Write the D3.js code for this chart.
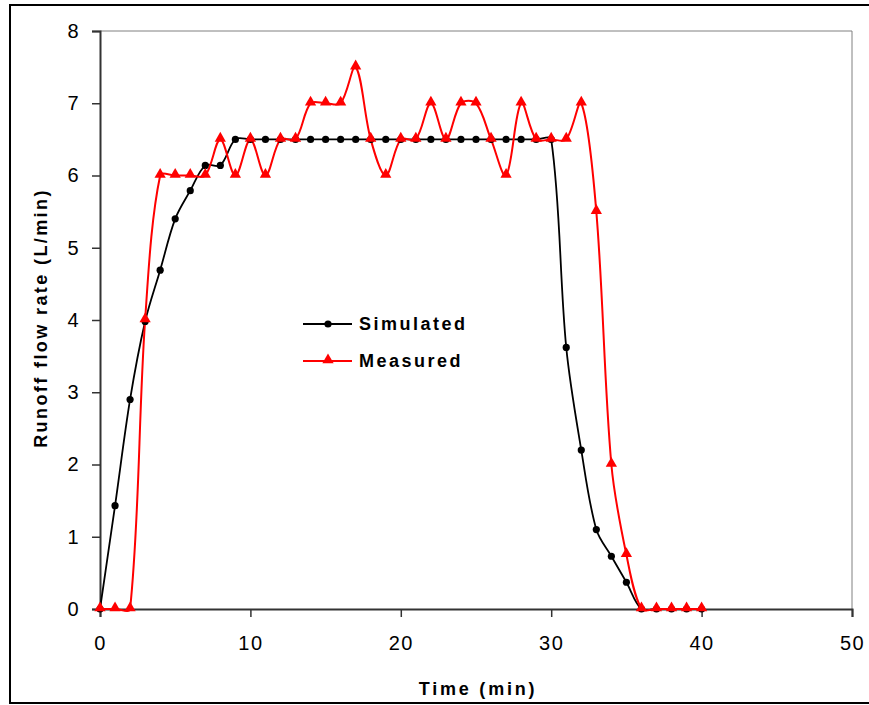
<!DOCTYPE html>
<html><head><meta charset="utf-8">
<script src="https://cdn.jsdelivr.net/npm/d3@7/dist/d3.min.js"></script>
<style>body{margin:0;background:#fff}svg{display:block}text{font-family:Arial,"Liberation Sans",sans-serif}</style>
</head><body><svg id="c" width="869" height="705"></svg>
<script>
const time = [0,1,2,3,4,5,6,7,8,9,10,11,12,13,14,15,16,17,18,19,20,21,22,23,24,25,26,27,28,29,30,31,32,33,34,35,36,37,38,39,40];
const simulated = [0,1.43,2.9,3.98,4.69,5.4,5.79,6.14,6.14,6.5,6.5,6.5,6.5,6.5,6.5,6.5,6.5,6.5,6.5,6.5,6.5,6.5,6.5,6.5,6.5,6.5,6.5,6.5,6.5,6.5,6.5,3.62,2.2,1.1,0.73,0.37,0,0,0,0,0];
const measured = [0,0,0,4.0,6.0,6.0,6.0,6.0,6.5,6.0,6.5,6.0,6.5,6.5,7.0,7.0,7.0,7.5,6.5,6.0,6.5,6.5,7.0,6.5,7.0,7.0,6.5,6.0,7.0,6.5,6.5,6.5,7.0,5.5,2.0,0.75,0,0,0,0,0];
const xTicks = [0,10,20,30,40,50];
const yTicks = [0,1,2,3,4,5,6,7,8];
const seriesNames = ["Simulated","Measured"];
const xTitle = "Time (min)";
const yTitle = "Runoff flow rate (L/min)";

const svg = d3.select("#c");
svg.append("rect").attr("x",10).attr("y",5).attr("width",870).attr("height",698)
  .attr("fill","#fff").attr("stroke","#000").attr("stroke-width",2);

const L=100,R=852,T=31,B=609;
const x = d3.scaleLinear().domain([0,50]).range([L,R]);
const y = d3.scaleLinear().domain([0,8]).range([B,T]);

svg.append("path").attr("d",`M${L},${T}H${R}V${B}`).attr("fill","none").attr("stroke","#808080").attr("stroke-width",1);

const gx = svg.append("g").attr("transform",`translate(0,${B})`)
  .call(d3.axisBottom(x).tickValues(xTicks).tickSize(8).tickPadding(19).tickFormat(d3.format("d")));
const gy = svg.append("g").attr("transform",`translate(${L},0)`)
  .call(d3.axisLeft(y).tickValues(yTicks).tickSize(8).tickPadding(12).tickFormat(d3.format("d")));
[gx,gy].forEach(g=>{
  g.select(".domain").attr("stroke","#333").attr("stroke-width",2);
  g.selectAll(".tick line").attr("stroke","#333").attr("stroke-width",1.5);
  g.selectAll(".tick text").attr("font-size",20).attr("fill","#000").attr("letter-spacing",1.5)
    .attr("font-family","Arial, 'Liberation Sans', sans-serif");
});

// Excel-like smoothed line: Bezier arms along the Catmull-Rom tangent, scaled by adjacent segment lengths
function smoothPath(vals){
  const p = vals.map((v,i)=>[x(time[i]), y(v)]);
  const n = p.length, path = d3.path();
  const dist = (a,b)=>Math.hypot(b[0]-a[0], b[1]-a[1]);
  const arms = p.map((pt,i)=>{
    if(i===0 || i===n-1) return {f:[0,0], b:[0,0]};
    const t=[p[i+1][0]-p[i-1][0], p[i+1][1]-p[i-1][1]];
    const d1=dist(p[i-1],pt), d2=dist(pt,p[i+1]), s=d1+d2||1;
    return {f:[t[0]*d2/s/3, t[1]*d2/s/3], b:[-t[0]*d1/s/3, -t[1]*d1/s/3]};
  });
  path.moveTo(p[0][0],p[0][1]);
  for(let i=0;i<n-1;i++){
    const a=p[i], c=p[i+1];
    const c1=i===0?[a[0]+(c[0]-a[0])/3, a[1]+(c[1]-a[1])/3]:[a[0]+arms[i].f[0], a[1]+arms[i].f[1]];
    const c2=i+1===n-1?[c[0]-(c[0]-a[0])/3, c[1]-(c[1]-a[1])/3]:[c[0]+arms[i+1].b[0], c[1]+arms[i+1].b[1]];
    path.bezierCurveTo(c1[0],c1[1],c2[0],c2[1],c[0],c[1]);
  }
  return path.toString();
}

svg.append("path").attr("d",smoothPath(simulated)).attr("fill","none").attr("stroke","#000").attr("stroke-width",1.8);
svg.append("path").attr("d",smoothPath(measured)).attr("fill","none").attr("stroke","#ff0000").attr("stroke-width",2);

svg.append("g").selectAll("circle").data(simulated).join("circle")
  .attr("cx",(d,i)=>x(time[i])).attr("cy",d=>y(d)).attr("r",3.6).attr("fill","#000");
const tri = d3.symbol().type(d3.symbolTriangle).size(55);
svg.append("g").selectAll("path").data(measured).join("path")
  .attr("d",tri).attr("transform",(d,i)=>`translate(${x(time[i])},${y(d)-1})`).attr("fill","#ff0000");

const lg = svg.append("g");
const ly = [324,361];
lg.append("line").attr("x1",303).attr("x2",352).attr("y1",ly[0]).attr("y2",ly[0]).attr("stroke","#000").attr("stroke-width",1.8);
lg.append("circle").attr("cx",328).attr("cy",ly[0]).attr("r",3.6).attr("fill","#000");
lg.append("line").attr("x1",303).attr("x2",352).attr("y1",ly[1]).attr("y2",ly[1]).attr("stroke","#ff0000").attr("stroke-width",2);
lg.append("path").attr("d",tri).attr("transform",`translate(328,${ly[1]-1})`).attr("fill","#ff0000");
seriesNames.forEach((n,i)=>{
  lg.append("text").attr("x",359).attr("y",ly[i]).attr("dy","0.35em").attr("font-size",18).attr("font-weight","bold").attr("letter-spacing",2.5).text(n);
});

svg.append("text").attr("x",478).attr("y",689).attr("dy","0.35em").attr("text-anchor","middle").attr("font-size",18).attr("font-weight","bold").attr("letter-spacing",2.8).text(xTitle);
svg.append("text").attr("transform","translate(41,318) rotate(-90)").attr("dy","0.35em").attr("text-anchor","middle").attr("font-size",18).attr("font-weight","bold").attr("letter-spacing",2.4).text(yTitle);
</script></body></html>
